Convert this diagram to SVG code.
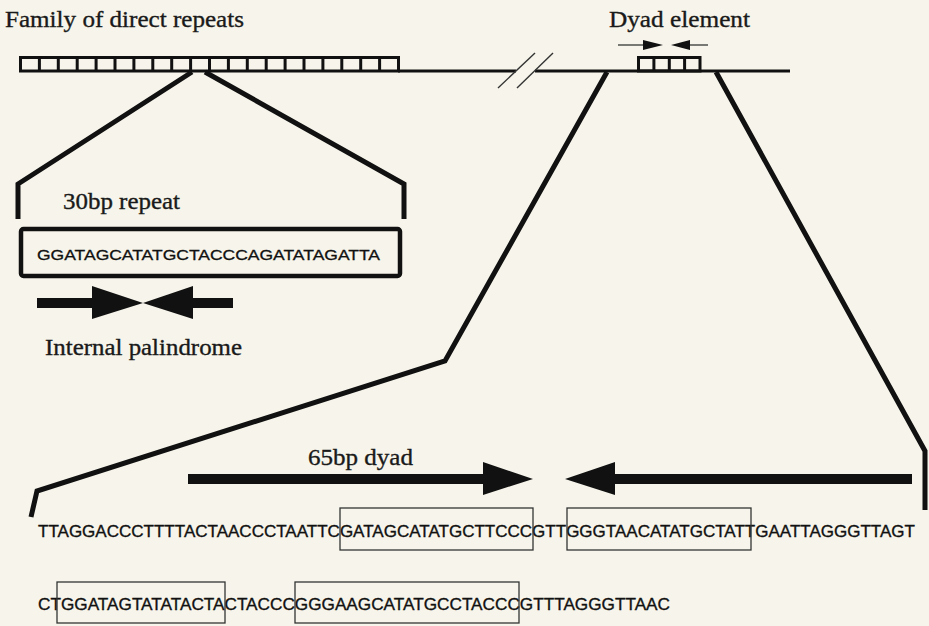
<svg xmlns="http://www.w3.org/2000/svg" width="929" height="626" viewBox="0 0 929 626">
  <defs>
    <style>
      .serif { font-family: "Liberation Serif", "Times New Roman", serif; font-size: 23px; fill: #1a1a1a; stroke: #1a1a1a; stroke-width: 0.35; }
      .seq { font-family: "Liberation Sans", Arial, sans-serif; font-size: 17px; fill: #111; stroke: #111; stroke-width: 0.35; }
      .seq-sm { font-family: "Liberation Sans", Arial, sans-serif; font-size: 15.5px; fill: #111; stroke: #111; stroke-width: 0.3; }
      .cell { fill: none; stroke: #111; stroke-width: 3; }
      .thin { fill: none; stroke: #333; stroke-width: 1.3; }
      .zoomline { fill: none; stroke: #111; stroke-width: 5; stroke-linejoin: miter; stroke-linecap: butt; }
      .solid { fill: #111; stroke: none; }
    </style>
  </defs>

  <!-- paper -->
  <rect width="929" height="626" fill="#f7f5eb"/>

  <!-- chromosome line with break -->
  <g id="dna-line">
    <line x1="398" y1="71" x2="516" y2="71" stroke="#111" stroke-width="2.8"/>
    <line x1="535" y1="71" x2="790" y2="71" stroke="#111" stroke-width="2.8"/>
    <line x1="498" y1="88" x2="535" y2="53" stroke="#333" stroke-width="1.4"/>
    <line x1="517" y1="88" x2="553" y2="53" stroke="#333" stroke-width="1.4"/>
  </g>

  <!-- family of direct repeats: 20 cells -->
  <g id="family-repeats">
    <text class="serif" x="5" y="27" textLength="239" lengthAdjust="spacingAndGlyphs">Family of direct repeats</text>
    <rect class="cell" x="20.5" y="57.5" width="378" height="13.5"/>
    <path class="cell" d="M39.4 57.5V71M58.3 57.5V71M77.2 57.5V71M96.1 57.5V71M115 57.5V71M133.9 57.5V71M152.8 57.5V71M171.7 57.5V71M190.6 57.5V71M209.5 57.5V71M228.4 57.5V71M247.3 57.5V71M266.2 57.5V71M285.1 57.5V71M304 57.5V71M322.9 57.5V71M341.8 57.5V71M360.7 57.5V71M379.6 57.5V71"/>
  </g>

  <!-- dyad element: 4 cells with facing arrows -->
  <g id="dyad-element">
    <text class="serif" x="609" y="27" textLength="141" lengthAdjust="spacingAndGlyphs">Dyad element</text>
    <rect class="cell" x="638.5" y="57.5" width="61.5" height="13.5"/>
    <path class="cell" d="M653.9 57.5V71M669.3 57.5V71M684.6 57.5V71"/>
    <line x1="618" y1="45" x2="646" y2="45" stroke="#333" stroke-width="1.3"/>
    <polygon class="solid" points="643,40 663,45 643,50"/>
    <line x1="688" y1="45" x2="708" y2="45" stroke="#333" stroke-width="1.3"/>
    <polygon class="solid" points="690,40 671,45 690,50"/>
  </g>

  <!-- expansion lines -->
  <g id="connectors">
    <polyline class="zoomline" points="192,72 18,184 18,219"/>
    <polyline class="zoomline" points="205,72 404,184 404,219"/>
    <polyline class="zoomline" points="607,72 445,361 37,491 31,517"/>
    <polyline class="zoomline" points="716,72 925,451 925,510"/>
  </g>

  <!-- single 30 bp repeat -->
  <g id="repeat-30bp">
    <text class="serif" x="63" y="209" textLength="117" lengthAdjust="spacingAndGlyphs">30bp repeat</text>
    <rect x="21" y="229" width="379" height="47" rx="2.5" fill="none" stroke="#111" stroke-width="4.5"/>
    <text class="seq-sm" x="37" y="260" textLength="343" lengthAdjust="spacingAndGlyphs">GGATAGCATATGCTACCCAGATATAGATTA</text>
  </g>

  <!-- internal palindrome: two arrows meeting tip to tip -->
  <g id="palindrome">
    <rect class="solid" x="37" y="298" width="57" height="10"/>
    <polygon class="solid" points="92,286 143,303 92,319"/>
    <rect class="solid" x="191" y="298" width="42" height="10"/>
    <polygon class="solid" points="193,286 143,303 193,319"/>
    <text class="serif" x="45" y="355" textLength="197" lengthAdjust="spacingAndGlyphs">Internal palindrome</text>
  </g>

  <!-- 65 bp dyad -->
  <g id="dyad-65bp">
    <text class="serif" x="308" y="465" textLength="105" lengthAdjust="spacingAndGlyphs">65bp dyad</text>
    <rect class="solid" x="188" y="474" width="297" height="10"/>
    <polygon class="solid" points="483,462 533,479 483,495"/>
    <rect class="solid" x="613" y="474" width="299" height="10"/>
    <polygon class="solid" points="615,462 565,479 615,495"/>
  </g>

  <!-- dyad sequence with boxed elements -->
  <g id="sequence">
    <text class="seq" x="38" y="537" textLength="877" lengthAdjust="spacingAndGlyphs">TTAGGACCCTTTTACTAACCCTAATTCGATAGCATATGCTTCCCGTTGGGTAACATATGCTATTGAATTAGGGTTAGT</text>
    <rect class="thin" x="340" y="508" width="193" height="42"/>
    <rect class="thin" x="567" y="508" width="184" height="42"/>
    <text class="seq" x="38" y="610" textLength="632" lengthAdjust="spacingAndGlyphs">CTGGATAGTATATACTACTACCCGGGAAGCATATGCCTACCCGTTTAGGGTTAAC</text>
    <rect class="thin" x="57" y="582" width="168" height="41"/>
    <rect class="thin" x="295" y="582" width="224" height="41"/>
  </g>
</svg>
